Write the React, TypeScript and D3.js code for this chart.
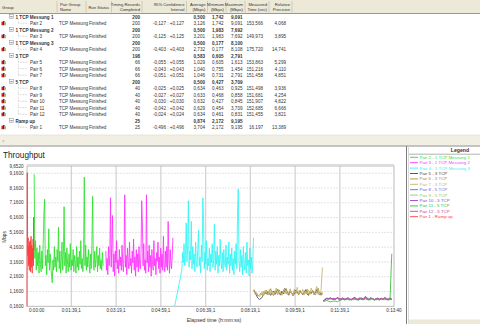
import React from 'react';
import * as d3 from 'd3';

// ---------- table data ----------
const rowKinds = ['g','p','g','p','g','p','g','p','p','p','g','p','p','p','p','p','g','p'];
const rowLabels = ["1 TCP Messung 1","Pair 2","1 TCP Messung 2","Pair 3","1 TCP Messung 3","Pair 4","3 TCP","Pair 5","Pair 6","Pair 7","5 TCP","Pair 8","Pair 9","Pair 10","Pair 11","Pair 12","Ramp up","Pair 1"];
const rowRecords = ["200","200","200","200","200","200","198","66","66","66","200","40","40","40","40","40","25","25"];
const rowConf = ["","-0,127 : +0,127","","-0,125 : +0,125","","-0,403 : +0,403","","-0,055 : +0,055","-0,043 : +0,043","-0,051 : +0,051","","-0,025 : +0,025","-0,027 : +0,027","-0,030 : +0,030","-0,042 : +0,042","-0,024 : +0,024","","-0,496 : +0,496"];
const rowAvg = ["0,500","3,126","0,500","3,201","0,500","2,732","0,583","1,029","1,040","1,046","0,500","0,634","0,633","0,632","0,629","0,634","0,874","3,704"];
const rowMin = ["1,742","1,742","1,983","1,983","0,177","0,177","0,605","0,605","0,755","0,731","0,427","0,463","0,468","0,427","0,454","0,461","2,172","2,172"];
const rowMax = ["9,091","9,091","7,692","7,692","8,100","8,108","2,791","1,613","1,454","2,791","3,709","0,925","0,858","0,845","3,709","0,831","9,195","9,195"];
const rowTime = ["","153,566","","149,973","","175,720","","153,863","151,216","151,458","","151,498","151,681","151,907","152,685","151,455","","16,197"];
const rowPrec = ["","4,068","","3,895","","14,741","","5,299","4,110","4,851","","3,936","4,254","4,822","6,666","3,821","","13,389"];

const headerLine1 = ["Group","Pair Group","Run Status","Timing Records","95% Confidence","Average","Minimum","Maximum","Measured","Relative"];
const headerLine2 = ["","Name","","Completed","Interval","(Mbps)","(Mbps)","(Mbps)","Time (sec)","Precision"];

// ---------- chart data ----------
const yTickValues = [9.652, 9.16, 8.16, 7.16, 6.16, 5.16, 4.16, 3.16, 2.16, 1.16, 0.16];
const xTickValues = [0, 99.1, 199.1, 299.1, 399.1, 499.1, 599.1, 699.1, 820];
const xTickLabels = ["0:00:00","0:01:39,1","0:03:19,1","0:04:59,1","0:06:39,1","0:08:19,1","0:09:59,1","0:11:39,1","0:13:40"];

const pair2Values = [9.09,3.4,4.6,2.6,4.1,2.9,3.8,2.4,4.3,3.0,
 2.5,3.9,2.7,4.4,6.4,7.4,2.9,3.6,2.3,4.0,
 3.1,5.4,2.6,3.7,2.9,2.2,1.75,3.3,2.6,4.2,
 2.8,3.5,2.5,4.0,3.2,5.5,2.7,3.9,2.4,3.3,
 4.5,2.6,3.6,6.9,2.9,3.8,2.4,4.1,3.0,2.5,
 3.7,2.8,4.4,2.6,3.3,2.9,4.0,2.5,3.6,3.1,
 2.4,4.2,2.8,3.5,2.6,3.9,3.0,4.6,2.7,3.4,
 2.5,3.8,8.9,2.9,4.3,2.6,3.5,2.8,4.0,3.1,
 2.4,3.7,2.7,4.5,7.6,3.0,2.6,3.9,2.8,3.4,
 4.2,2.5,3.6,2.9,4.1,2.7,3.3,2.6,3.8,2.9];
const pair3Values = [3.9,2.6,3.4,2.3,4.2,2.9,3.6,7.5,2.8,4.4,
 6.3,2.5,3.7,2.2,3.9,3.1,4.6,2.7,3.3,2.4,
 4.0,2.9,3.5,2.6,4.3,3.0,2.5,3.8,7.7,2.8,
 3.6,2.3,4.1,3.2,2.7,4.5,2.9,3.4,2.4,3.9,
 3.1,4.7,2.6,3.5,2.2,4.0,2.8,3.7,2.5,4.2,
 3.0,2.7,3.8,7.3,5.8,2.9,4.4,2.6,3.3,2.4,
 7.7,3.1,3.9,2.5,4.3,2.8,3.6,2.2,4.0,3.0,
 2.6,4.6,2.9,3.4,2.3,3.8,3.2,4.5,2.7,3.5,
 2.4,4.1,2.8,3.7,2.6,4.9,3.0,2.5,3.9,2.8,
 4.2,2.6,5.9,3.3,2.4,4.0,3.1,2.7,3.6,4.8];
const pair4FirstRecord = { t: 330, v: 0.177 };
const pair4Values = [2.6,3.8,3.1,4.4,2.9,3.6,5.8,3.2,4.1,7.3,
 2.8,3.9,3.3,5.9,2.7,4.2,3.0,3.7,2.5,4.5,
 3.1,2.8,4.0,5.3,2.9,3.5,2.4,4.3,3.2,7.5,
 5.9,2.7,3.8,3.0,4.6,2.6,3.4,2.9,4.1,2.5,
 3.7,3.1,4.4,2.8,3.3,5.7,2.6,3.9,3.0,4.2,
 2.4,3.6,2.9,4.7,3.2,2.7,3.8,2.5,4.0,3.1,
 2.8,4.3,2.6,3.5,3.0,4.5,2.4,3.7,2.9,4.1,
 2.6,3.4,2.3,3.9,3.0,4.4,2.7,6.6,8.1,3.2,
 2.5,4.0,2.8,3.6,2.3,4.2,3.1,2.6,3.8,2.4,
 4.5,2.9,3.3,2.2,4.1,2.7,3.5,2.4,3.0,4.8];
const pair5Values = [1.25,1.05,0.85,0.70,0.62,0.68,0.80,0.95,1.10,0.98,1.15,1.02,0.90,1.08,1.20,0.96,1.12,1.30,1.05,0.92,1.18,1.00,1.22,1.35,1.10,0.95,1.15,1.05,0.88,1.02,1.25,1.12,0.98,1.18,1.06,0.94,1.10,1.28,1.00,0.90,1.15,1.05,1.20,0.96,1.10,1.30,1.02,0.92,1.08,0.95];
const pair6Values = [1.30,1.10,1.00,0.85,0.95,1.05,0.90,1.15,1.00,1.25,0.92,1.08,1.35,1.02,0.88,1.20,1.10,0.96,1.28,1.05,0.94,1.18,1.40,1.00,1.12,0.90,1.22,1.06,0.98,1.30,1.02,1.15,0.92,1.25,1.08,0.96,1.20,1.04,1.32,0.94,1.10,1.00,1.26,1.06,0.92,1.18,1.38,1.02,0.90,1.10];
const pair7Values = [1.20,0.95,1.10,0.90,0.80,1.00,1.15,0.88,1.25,1.05,0.96,1.30,1.00,1.18,0.92,1.10,1.40,0.98,1.22,1.06,0.90,1.15,1.02,1.28,0.95,1.12,1.35,1.00,0.94,1.20,1.08,1.45,0.98,1.14,1.02,1.30,0.92,1.18,1.06,1.26,0.96,1.40,1.10,1.00,1.24,1.50,1.05,0.95,1.20,2.79];
const pair8Values = [0.55,0.62,0.70,0.66,0.72,0.64,0.68,0.60,0.74,0.66,0.62,0.70,0.58,0.66,0.72,0.64,0.60,0.68,0.75,0.63,0.58,0.66,0.70,0.62,0.80,0.68,0.60,0.72,0.65,0.58,0.64,0.70,0.62,0.68,0.60,0.74,0.66,0.62,0.70,0.64];
const pair9Values = [0.52,0.66,0.64,0.70,0.62,0.68,0.60,0.66,0.70,0.58,0.64,0.72,0.62,0.60,0.68,0.66,0.56,0.70,0.64,0.60,0.66,0.72,0.58,0.64,0.70,0.76,0.62,0.60,0.68,0.64,0.58,0.66,0.72,0.60,0.64,0.70,0.62,0.58,0.66,0.60];
const pair10Values = [0.50,0.58,0.72,0.68,0.74,0.66,0.70,0.64,0.76,0.70,0.66,0.72,0.62,0.68,0.74,0.66,0.64,0.70,0.78,0.66,0.62,0.70,0.72,0.64,0.84,0.70,0.64,0.74,0.68,0.62,0.66,0.72,0.64,0.70,0.62,0.76,0.68,0.64,0.72,0.66];
const pair11Values = [0.48,0.52,0.56,0.50,0.46,0.48,0.52,0.50,0.46,0.54,0.58,0.62,0.60,0.66,0.62,0.58,0.64,0.60,0.66,0.62,0.58,0.64,0.68,0.60,0.66,0.62,0.58,0.64,0.70,0.60,0.64,0.62,0.58,0.66,0.62,0.60,0.64,0.58,0.62,3.71];
const pair12Values = [0.52,0.64,0.68,0.62,0.70,0.66,0.62,0.68,0.72,0.64,0.60,0.66,0.70,0.62,0.68,0.64,0.60,0.72,0.66,0.62,0.68,0.74,0.60,0.66,0.72,0.64,0.62,0.70,0.66,0.60,0.68,0.64,0.62,0.70,0.66,0.72,0.60,0.66,0.64,0.62];
const pair1Values = [0.16,9.20,4.4,3.6,4.8,2.9,4.2,3.3,2.6,4.5,3.0,4.6,2.5,3.8,4.9,2.8,4.3,3.5,2.4,4.1,3.2,4.7,2.9,6.2,3.9,4.4];

const legendNames = ["Pair 2 - 1 TCP Messung 1","Pair 3 - 1 TCP Messung 2","Pair 4 - 1 TCP Messung 3","Pair 5 - 3 TCP","Pair 6 - 3 TCP","Pair 7 - 3 TCP","Pair 8 - 5 TCP","Pair 9 - 5 TCP","Pair 10 - 5 TCP","Pair 11 - 5 TCP","Pair 12 - 5 TCP","Pair 1 - Ramp up"];
const seriesColors = ["#2ee02e","#ff30ff","#30f4f4","#484848","#a89040","#c8b468","#6a6ad0","#98c870","#a040d0","#30c030","#d04090","#ff3c3c"];
const seriesValues = [pair2Values,pair3Values,pair4Values,pair5Values,pair6Values,pair7Values,pair8Values,pair9Values,pair10Values,pair11Values,pair12Values,pair1Values];
const seriesSpans = [[16,170],[176,326],[346,506],[507,660],[507,660],[507,660],[662,815],[662,815],[662,815],[662,815],[662,815],[0,16.2]];
const drawOrder = [11,0,1,2,3,4,5,6,7,8,10,9];

const FONT = "Liberation Sans, Arial, sans-serif";

export default function App() {
  const x = d3.scaleLinear().domain([0, 820]).range([27, 394]);
  const y = d3.scaleLinear().domain([0.16, 9.652]).range([306.3, 166]);
  const line = d3.line<[number, number]>().x(d => x(d[0])).y(d => y(d[1]));

  const seriesPoints = seriesValues.map((vals, si) => {
    const [t0, t1] = seriesSpans[si];
    const pts: [number, number][] = vals.map((v, i) => [t0 + (i * (t1 - t0)) / (vals.length - 1), v]);
    if (si === 2) pts.unshift([pair4FirstRecord.t, pair4FirstRecord.v]);
    return pts;
  });

  const colSeps = [57, 86, 111.5, 142, 186.5, 207.5, 226, 245, 269, 292];
  const headerX = [2, 60, 88.5, 140, 184.5, 205.5, 224, 243, 267, 290];
  const headerAnchor = ['start','start','start','end','end','end','end','end','end','end'];
  const valueX = [140, 184, 205, 223.5, 242.5, 263, 286];
  const rowY = (i: number) => 16.7 + 6.5 * i;
  const fmt = d3.format(".4f");

  return (
    <svg width={480} height={324} style={{ position: 'absolute', left: 0, top: 0, background: '#fff' }} fontFamily={FONT}>
      {/* table header */}
      <rect x={0} y={0} width={480} height={13.5} fill="#ece9d8" />
      <line x1={0} x2={480} y1={13.5} y2={13.5} stroke="#9a9890" strokeWidth={1} />
      {colSeps.map((s, i) => (
        <line key={i} x1={s} x2={s} y1={1} y2={12.5} stroke="#c8c4b0" strokeWidth={0.8} />
      ))}
      {headerLine1.map((h, i) => (
        <text key={'h1' + i} x={headerX[i]} y={headerLine2[i] ? 5.8 : 8.6} fontSize={4.2} fill="#333" textAnchor={headerAnchor[i] as any}>{h}</text>
      ))}
      {headerLine2.map((h, i) => h ? (
        <text key={'h2' + i} x={headerX[i]} y={11} fontSize={4.2} fill="#333" textAnchor={headerAnchor[i] as any}>{h}</text>
      ) : null)}

      {/* table rows */}
      {rowLabels.map((lab, i) => {
        const cy = rowY(i);
        const by = cy + 1.8;
        const isG = rowKinds[i] === 'g';
        const fw = isG ? 'bold' : 'normal';
        return (
          <g key={'r' + i} fontSize={4.6} fill="#333" fontWeight={fw}>
            {isG ? (
              <g>
                <rect x={9.5} y={cy - 2} width={4} height={4} fill="#fff" stroke="#8a8a8a" strokeWidth={0.5} />
                <line x1={10.3} x2={12.7} y1={cy} y2={cy} stroke="#333" strokeWidth={0.6} />
                <text x={15.5} y={by}>{lab}</text>
              </g>
            ) : (
              <g>
                <rect x={1.5} y={cy - 1.5} width={1.5} height={3.5} fill="#c82020" />
                <rect x={3} y={cy - 2.2} width={1.5} height={4.2} fill="#2030b0" />
                <rect x={4.5} y={cy - 1} width={1.5} height={3} fill="#e0b000" />
                <line x1={18.3} x2={18.3} y1={cy - 4.3} y2={cy} stroke="#999" strokeWidth={0.5} strokeDasharray="0.8,0.8" />
                <line x1={18.3} x2={27.5} y1={cy} y2={cy} stroke="#999" strokeWidth={0.5} strokeDasharray="0.8,0.8" />
                <text x={30} y={by}>{lab}</text>
                <text x={59} y={by}>TCP Messung</text>
                <text x={89} y={by}>Finished</text>
              </g>
            )}
            <text x={valueX[0]} y={by} textAnchor="end">{rowRecords[i]}</text>
            <text x={valueX[1]} y={by} textAnchor="end">{rowConf[i]}</text>
            <text x={valueX[2]} y={by} textAnchor="end">{rowAvg[i]}</text>
            <text x={valueX[3]} y={by} textAnchor="end">{rowMin[i]}</text>
            <text x={valueX[4]} y={by} textAnchor="end">{rowMax[i]}</text>
            <text x={valueX[5]} y={by} textAnchor="end">{rowTime[i]}</text>
            <text x={valueX[6]} y={by} textAnchor="end">{rowPrec[i]}</text>
          </g>
        );
      })}

      {/* scrollbar strip */}
      <rect x={0} y={135} width={480} height={10.5} fill="#f1efe4" />
      <line x1={0} x2={480} y1={135} y2={135} stroke="#e4e1d2" strokeWidth={0.8} />
      <text x={1.5} y={141.5} fontSize={4} fill="#b8b4a0">◂</text>
      <line x1={0} x2={480} y1={146} y2={146} stroke="#8c8c8c" strokeWidth={1.2} />

      {/* chart title */}
      <text x={3} y={158} fontSize={8.2} fill="#222">Throughput</text>

      {/* grid */}
      {yTickValues.slice(1, -1).map((v, i) => (
        <line key={'gy' + i} x1={27} x2={394} y1={y(v)} y2={y(v)} stroke="#dcdcdc" strokeWidth={0.8} strokeDasharray="2,1" />
      ))}
      {xTickValues.slice(1, -1).map((v, i) => (
        <line key={'gx' + i} x1={x(v)} x2={x(v)} y1={166} y2={306.3} stroke="#d4d4d4" strokeWidth={1.3} />
      ))}
      <rect x={27} y={166} width={367} height={140.3} fill="none" stroke="#b4b4b4" strokeWidth={0.9} />
      <line x1={27} x2={394} y1={164.6} y2={164.6} stroke="#cfcfcf" strokeWidth={0.8} />

      {/* series */}
      {drawOrder.map(si => (
        <path key={'s' + si} d={line(seriesPoints[si]) || ''} fill="none" stroke={seriesColors[si]} strokeWidth={0.85} />
      ))}

      {/* y ticks */}
      {yTickValues.map((v, i) => (
        <text key={'yt' + i} x={23.5} y={y(v) + 1.6} fontSize={4.6} fill="#333" textAnchor="end">{fmt(v).replace('.', ',')}</text>
      ))}
      <text transform="translate(5.5,237) rotate(-90)" fontSize={4.8} fill="#333" textAnchor="middle">Mbps</text>

      {/* x ticks */}
      {xTickValues.map((v, i) => (
        <text key={'xt' + i} x={i === 0 ? x(v) + 2 : x(v)} y={312.2} fontSize={4.6} fill="#333" textAnchor={i === 0 ? 'start' : 'middle'}>{xTickLabels[i]}</text>
      ))}
      <text x={214} y={321.5} fontSize={5.2} fill="#333" textAnchor="middle">Elapsed time (h:mm:ss)</text>

      {/* legend panel */}
      <line x1={406.5} x2={406.5} y1={146} y2={324} stroke="#7c7c7c" strokeWidth={1} />
      <line x1={408.5} x2={408.5} y1={146} y2={324} stroke="#d0d0d0" strokeWidth={0.8} />
      <text x={460} y={152} fontSize={5.2} fontWeight="bold" fill="#333" textAnchor="middle">Legend</text>
      <line x1={409} x2={480} y1={154.2} y2={154.2} stroke="#a0a0a0" strokeWidth={0.8} />
      {legendNames.map((n, i) => {
        const ly = 157.3 + i * 5.4;
        return (
          <g key={'lg' + i}>
            <line x1={410} x2={418} y1={ly} y2={ly} stroke={seriesColors[i]} strokeWidth={0.9} />
            <text x={419.5} y={ly + 1.5} fontSize={4.4} fill={seriesColors[i]}>{n}</text>
          </g>
        );
      })}
      <rect x={409} y={319.5} width={71} height={4.5} fill="#ece9d8" />
    </svg>
  );
}
